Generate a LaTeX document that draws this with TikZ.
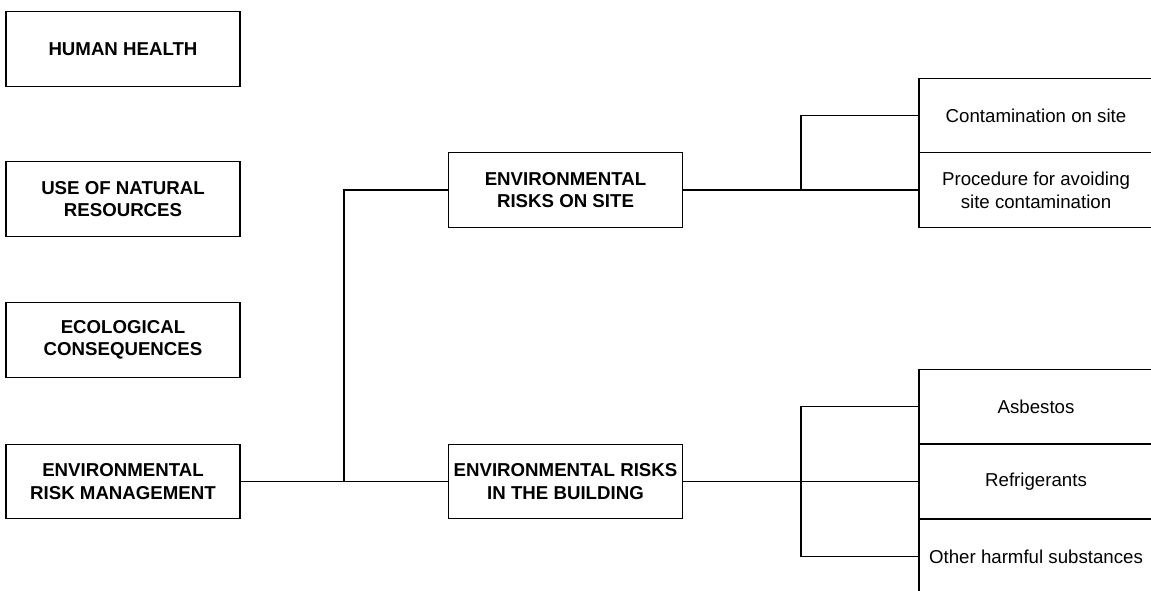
\documentclass[tikz,border=0pt]{standalone}
\usepackage{fontspec}
\setmainfont{Liberation Sans}
\usetikzlibrary{positioning}
\tikzstyle{topic} = [rectangle, minimum width=175.5pt, minimum height=56pt, align=center, draw=black, line width=0.8pt, font=\fontsize{14}{16.8}\selectfont\bfseries]
\tikzstyle{item} = [rectangle, minimum width=175.5pt, minimum height=56pt, align=center, draw=black, line width=0.8pt, font=\fontsize{14}{17}\selectfont]
\tikzstyle{link} = [line width=0.8pt]

\begin{document}
\begin{tikzpicture}[x=0.75pt,y=-0.75pt]

    \useasboundingbox (0,0) rectangle (1151,590);
    \clip (0,0) rectangle (1151,590);

    % Left column
    \node[topic] (health) at (123, 49) {HUMAN HEALTH};
    \node[topic] (resources) at (123, 199) {USE OF NATURAL\\RESOURCES};
    \node[topic] (ecology) at (123, 340) {ECOLOGICAL\\CONSEQUENCES};
    \node[topic] (management) at (123, 481.5) {ENVIRONMENTAL\\RISK MANAGEMENT};

    % Middle column
    \node[topic] (site) at (565.5, 190) {ENVIRONMENTAL\\RISKS ON SITE};
    \node[topic] (building) at (565.5, 481.5) {ENVIRONMENTAL RISKS\\IN THE BUILDING};

    % Right column
    \node[item] (contamination) at (1036, 115.5) {Contamination on site};
    \node[item] (procedure) at (1036, 190) {Procedure for avoiding\\site contamination};
    \node[item] (asbestos) at (1036, 406.5) {Asbestos};
    \node[item] (refrigerants) at (1036, 481.5) {Refrigerants};
    \node[item] (harmful) at (1036, 556.5) {Other harmful substances};

    % Junctions
    \coordinate (forkLeft) at (344, 481.5);
    \coordinate (forkSite) at (801, 190);
    \coordinate (forkBuilding) at (801, 481.5);

    % Connectors
    \draw[link] (management) -- (building);
    \draw[link] (forkLeft) |- (site.west);

    \draw[link] (site) -- (procedure);
    \draw[link] (forkSite) |- (contamination.west);

    \draw[link] (building) -- (refrigerants);
    \draw[link] (forkBuilding) |- (asbestos.west);
    \draw[link] (forkBuilding) |- (harmful.west);

\end{tikzpicture}
\end{document}
